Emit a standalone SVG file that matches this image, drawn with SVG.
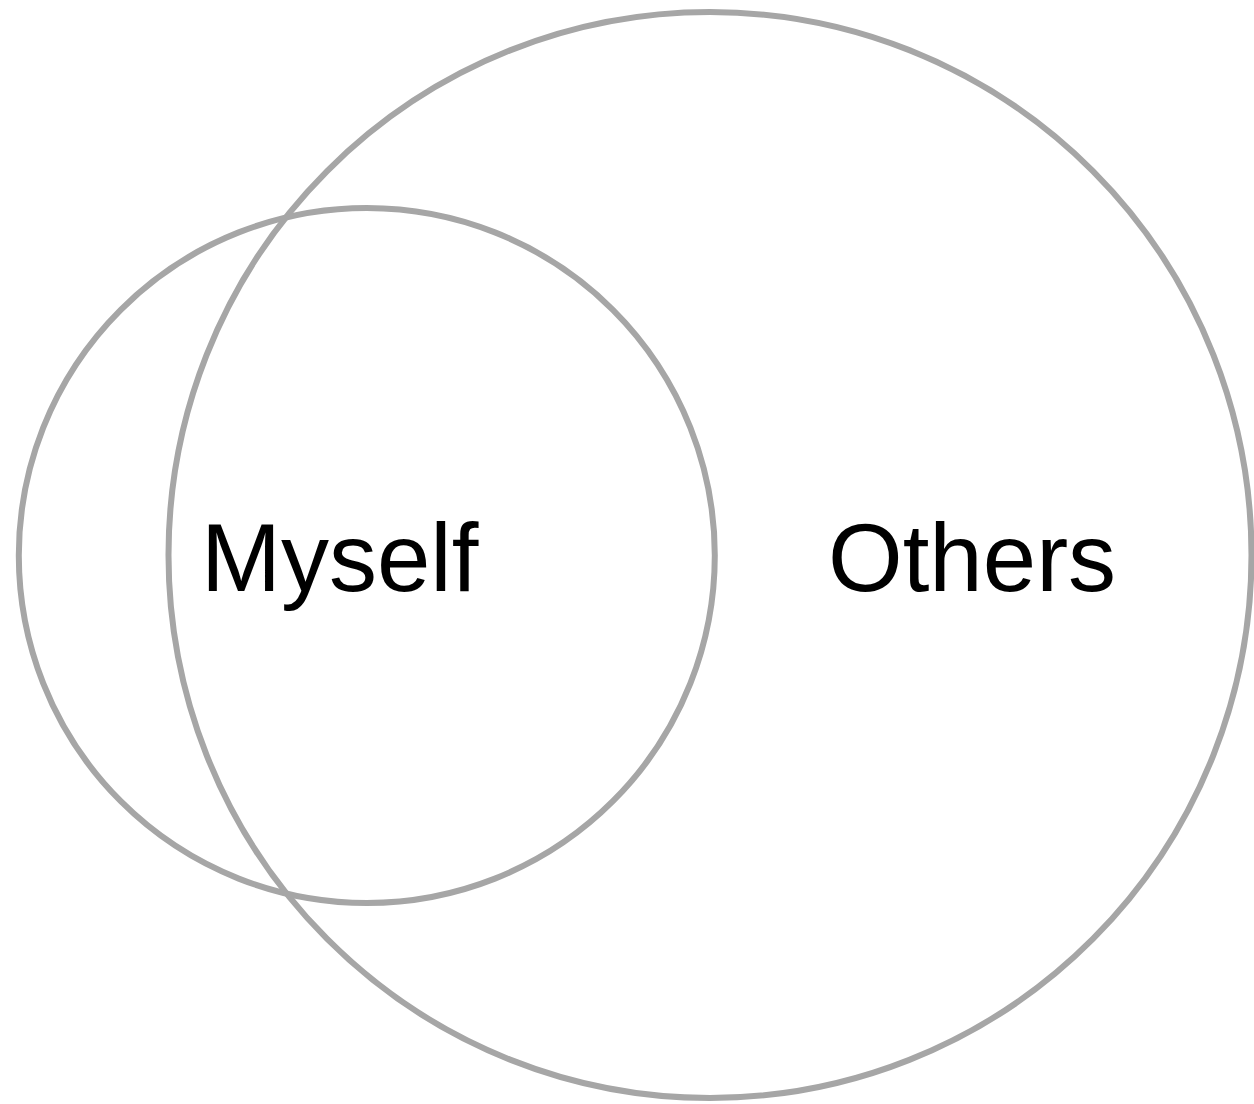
<svg xmlns="http://www.w3.org/2000/svg" width="1254" height="1104" viewBox="0 0 1254 1104">
<style>
.c{fill:none;stroke:#a6a6a6;stroke-width:6}
.t{font-family:"Liberation Sans",Arial,sans-serif;font-size:96px;fill:#000}
</style>
<rect width="1254" height="1104" fill="#fff"/>
<g id="others">
<ellipse class="c" cx="710" cy="555" rx="541.5" ry="543"/>
<text class="t" x="828" y="591">Others</text>
</g>
<g id="myself">
<ellipse class="c" cx="366.8" cy="555.5" rx="348" ry="347.5"/>
<text class="t" x="201" y="591">Myself</text>
</g>
<g id="connectors"/>
</svg>
